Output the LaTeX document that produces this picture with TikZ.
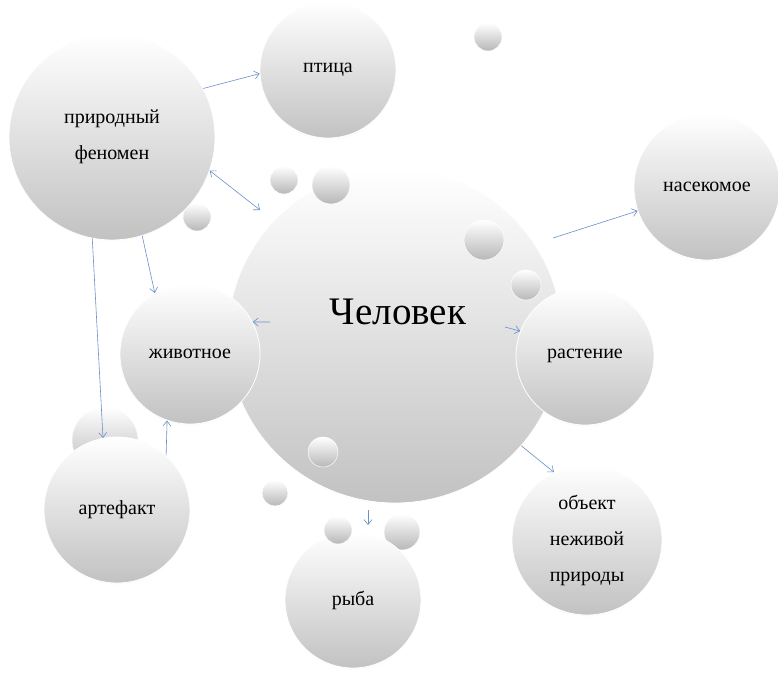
\documentclass[tikz,border=0pt]{standalone}
\usepackage{fontspec}
\setmainfont{Liberation Serif}
\usetikzlibrary{arrows.meta,calc,shadows}
\definecolor{linkblue}{RGB}{105,145,200}
\tikzset{
  bubble/.style={circle, inner sep=0pt, align=center,
    top color=white, bottom color=black!24, draw=white, line width=0.8pt,
    text=black, font=\fontsize{20}{36}\selectfont,
    circular drop shadow={shadow xshift=0pt, shadow yshift=-3pt, shadow scale=0.99, opacity=0.10}},
  drop/.style={top color=white, bottom color=black!28, draw=white, line width=0.5pt},
  link/.style={draw=linkblue, line width=0.6pt, -{Straight Barb[length=5pt,width=8pt]}},
}
\begin{document}
\begin{tikzpicture}[x=1pt, y=-1pt]
  \useasboundingbox (0,0) rectangle (778,678);
  \fill[white] (0,0) rectangle (778,678);
  % small drops behind
  \foreach \x/\y/\r in {402/532/18, 105/440/33, 58/503/14, 197/217/14}
    \shade[drop] (\x,\y) circle[radius=\r];
  \node[bubble, minimum size=334pt,
    label={[font=\fontsize{39}{42}\selectfont, text=black, xshift=3pt, yshift=24pt]center:Человек}]
    (human) at (395,336) {};
  \foreach \x/\y/\r in {484/240/20, 526/285/15, 323/452/15}
    \shade[drop] (\x,\y) circle[radius=\r];
  \node[bubble, minimum size=206pt] (phen) at (112,137) {природный\\феномен};
  \node[bubble, minimum size=136pt] (bird) at (328,70) {птица};
  \node[bubble, minimum size=146pt] (insect) at (707,187) {насекомое};
  \node[bubble, minimum size=138pt] (plant) at (585,356) {растение};
  \node[bubble, minimum size=150pt] (inanim) at (587,540) {объект\\неживой\\природы};
  \node[bubble, minimum size=136pt] (fish) at (353,600) {рыба};
  \node[bubble, minimum size=140pt] (animal) at (190,354) {животное};
  \node[bubble, minimum size=146pt] (artef) at (117,510) {артефакт};
  \foreach \x/\y/\r in {488/37/14, 284/180/14, 331/185/19, 275/493/13, 338/530/14}
    \shade[drop] (\x,\y) circle[radius=\r];
  % connectors
  \draw[link] (phen.28) -- (bird.183);
  \draw[link, <->, >={Straight Barb[length=5pt,width=8pt]}] (phen.-19) -- ($(human.center)+(-135,-126)$);
  \draw[link] (phen.-73) -- (animal.120);
  \draw[link] (phen.-101) -- (artef.101);
  \draw[link] (artef.48) -- (animal.-109);
  \draw[link] ($(human.center)+(-125,-14)$) -- (animal.27);
  \draw[link] ($(human.center)+(110,-9)$) -- (plant.159);
  \draw[link] ($(human.center)+(158,-98)$) -- (insect.199);
  \draw[link] (human.-41) -- (inanim.116);
  \draw[link] ($(human.center)+(-27,174)$) -- ($(fish.center)+(15,-75)$);
\end{tikzpicture}
\end{document}
